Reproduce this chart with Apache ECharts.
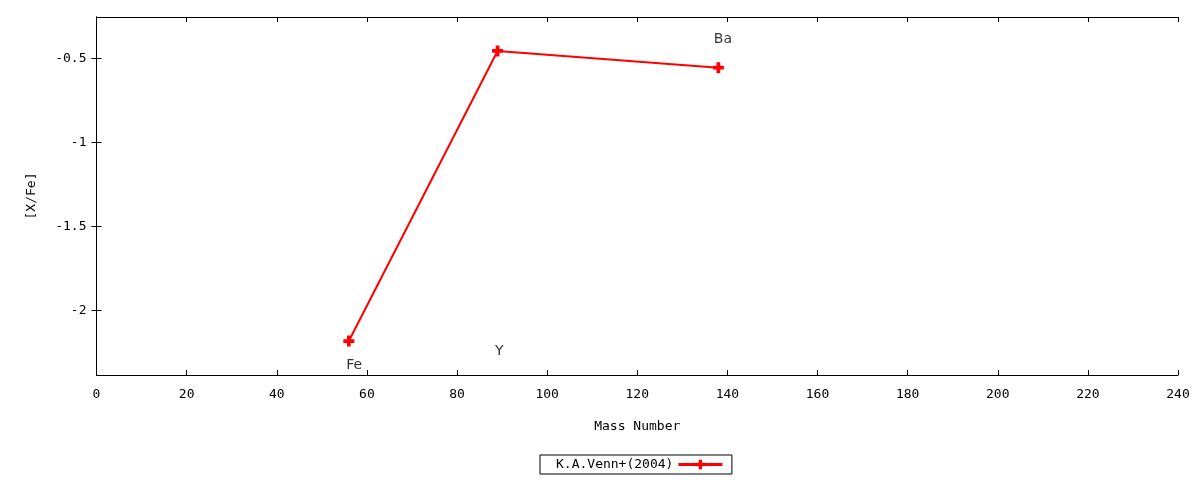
<!DOCTYPE html>
<html>
<head>
<meta charset="utf-8">
<script src="https://cdn.jsdelivr.net/npm/echarts@6/dist/echarts.min.js"></script>
<style>html,body{margin:0;padding:0;background:#fff}#c{width:1200px;height:480px}</style>
</head>
<body>
<div id="c"></div>
<script>
const seriesName = 'K.A.Venn+(2004)';
const massNumbers = [56, 89, 138];
const xFeValues = [-2.181, -0.457, -0.556];
const elementNames = ['Fe', 'Y', 'Ba'];
const labelX = [57.2, 89.4, 139];
const labelY = [-2.325, -2.242, -0.385];
const xTicks = [0, 20, 40, 60, 80, 100, 120, 140, 160, 180, 200, 220, 240];
const yTicks = [-2, -1.5, -1, -0.5];

const mono = 'DejaVu Sans Mono';
const plusPath = 'path://M3.3,0H6.7V3.3H10V6.7H6.7V10H3.3V6.7H0V3.3H3.3Z';

const chart = echarts.init(document.getElementById('c'), null, {renderer: 'canvas'});
const axisLine = {show: true, lineStyle: {color: '#000', width: 1}};
const tickStyle = {show: true, inside: true, length: 5, lineStyle: {color: '#000', width: 1}};
chart.setOption({
  animation: false,
  backgroundColor: '#fff',
  grid: {left: 96.5, right: 22, top: 17, bottom: 105, containLabel: false},
  legend: {
    data: [seriesName],
    left: 540, top: 455,
    align: 'right',
    orient: 'horizontal',
    itemWidth: 44, itemHeight: 12,
    padding: [3, 8, 3, 16],
    borderColor: '#000', borderWidth: 1, borderRadius: 0,
    lineStyle: {width: 3},
    textStyle: {fontFamily: mono, fontSize: 13, color: '#000'}
  },
  xAxis: [{
    type: 'value', min: 0, max: 240, interval: 20,
    name: 'Mass Number', nameLocation: 'middle', nameGap: 45,
    nameTextStyle: {fontFamily: mono, fontSize: 13, color: '#000'},
    axisLine: axisLine, axisTick: tickStyle,
    axisLabel: {fontFamily: mono, fontSize: 13, color: '#000', margin: 13,
      formatter: v => xTicks.includes(v) ? String(v) : ''},
    splitLine: {show: false}
  }, {
    type: 'value', min: 0, max: 240, interval: 20, position: 'top',
    axisLine: axisLine, axisTick: tickStyle, axisLabel: {show: false}, splitLine: {show: false}
  }],
  yAxis: [{
    type: 'value', min: -2.383, max: -0.255,
    name: '[X/Fe]', nameLocation: 'middle', nameGap: 58, nameRotate: 90,
    nameTextStyle: {fontFamily: mono, fontSize: 13, color: '#000'},
    axisLine: axisLine,
    axisTick: Object.assign({customValues: yTicks}, tickStyle),
    axisLabel: {fontFamily: mono, fontSize: 13, color: '#000', margin: 10,
      customValues: yTicks, formatter: v => String(v)},
    splitLine: {show: false}
  }, {
    type: 'value', min: -2.383, max: -0.255, position: 'right',
    axisLine: axisLine,
    axisTick: Object.assign({customValues: yTicks}, tickStyle),
    axisLabel: {show: false}, splitLine: {show: false}
  }],
  series: [{
    name: seriesName,
    type: 'line',
    data: massNumbers.map((m, i) => [m, xFeValues[i]]),
    symbol: plusPath, symbolSize: 11,
    itemStyle: {color: '#ff0000'},
    lineStyle: {color: '#ff0000', width: 2},
    z: 3
  }, {
    name: 'labels',
    type: 'scatter',
    data: labelX.map((x, i) => ({value: [x, labelY[i]], name: elementNames[i]})),
    symbolSize: 0,
    silent: true,
    label: {show: true, position: 'inside', formatter: p => p.name,
      fontFamily: 'DejaVu Sans', fontSize: 14, color: '#000'}
  }]
});
</script>
</body>
</html>
